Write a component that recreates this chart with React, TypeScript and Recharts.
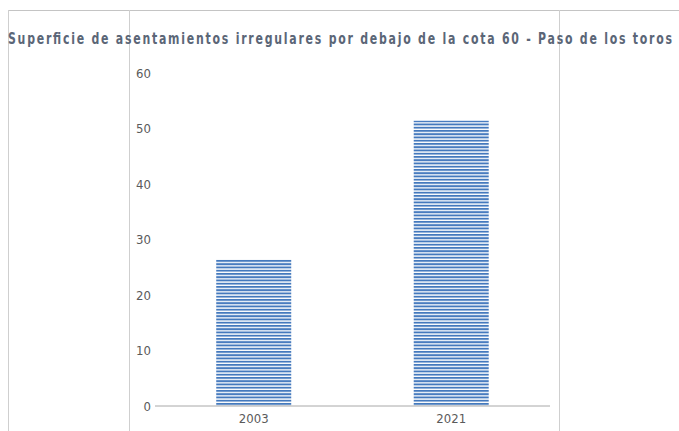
import React from 'react';
import { BarChart, Bar, XAxis, YAxis } from 'recharts';

const categories = ['2003', '2021'];
const values = [26.5, 51.4];
const yTicks = [0, 10, 20, 30, 40, 50, 60];
const title = 'Superficie de asentamientos irregulares por debajo de la cota 60 - Paso de los toros';

const data = categories.map((c, i) => ({ year: c, value: values[i] }));

const font = '"DejaVu Sans Condensed", "DejaVu Sans", sans-serif';

const TITLE_SCALE = 0.76;

export default function App() {
  const line = (style: React.CSSProperties) => (
    <div style={{ position: 'absolute', background: '#cfcfcf', ...style }} />
  );
  return (
    <div style={{ position: 'fixed', left: 0, top: 0, width: 679, height: 431, background: '#fff', overflow: 'hidden' }}>
      {line({ left: 8, top: 10, width: 671, height: 1, background: '#c4c4c4' })}
      {line({ left: 8, top: 10, width: 1, height: 421 })}
      {line({ left: 129, top: 10, width: 1, height: 421 })}
      {line({ left: 559, top: 10, width: 1, height: 421 })}
      <div style={{ position: 'absolute', left: 0, top: 0 }}>
        <BarChart width={679} height={431} data={data} margin={{ top: 73, right: 129, bottom: 0, left: 0 }} barCategoryGap="31%">
          <defs>
            <pattern id="stripes" patternUnits="userSpaceOnUse" width="8" height="3.25">
              <rect x="0" y="0" width="8" height="1.9" fill="#4479bd" />
            </pattern>
          </defs>
          <YAxis
            width={155}
            domain={[0, 60]}
            ticks={yTicks}
            axisLine={false}
            tickLine={false}
            tickSize={4}
            tickMargin={0}
            tick={{ fill: '#5a5a5a', fontSize: 13, fontFamily: font }}
            interval={0}
          />
          <XAxis
            dataKey="year"
            height={25}
            axisLine={{ stroke: '#a8a8a8' }}
            tickLine={false}
            tick={{ fill: '#5a5a5a', fontSize: 13, fontFamily: font }}
            tickMargin={2}
          />
          <Bar dataKey="value" fill="url(#stripes)" isAnimationActive={false} />
        </BarChart>
      </div>
      <svg width={679} height={60} style={{ position: 'absolute', left: 0, top: 0 }}>
        <g transform={`scale(${TITLE_SCALE},1)`}>
          <text
            x={8 / TITLE_SCALE}
            y={44}
            textLength={664 / TITLE_SCALE}
            lengthAdjust="spacing"
            fontFamily={font}
            fontWeight="bold"
            fontSize={16}
            fill="#5b6677"
          >
            {title}
          </text>
        </g>
      </svg>
    </div>
  );
}
